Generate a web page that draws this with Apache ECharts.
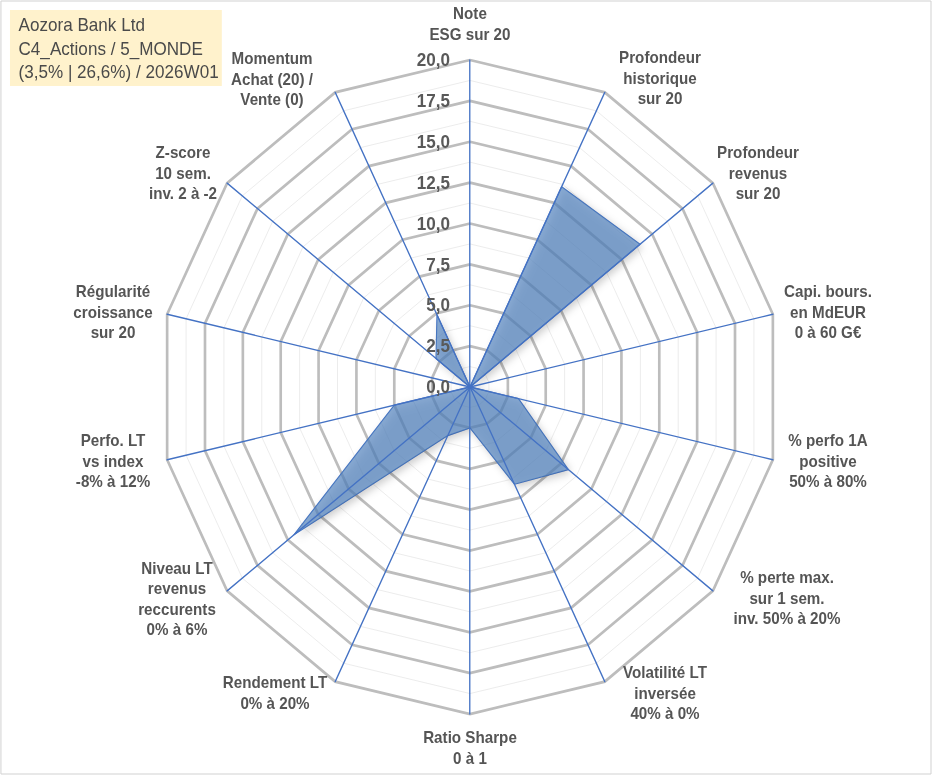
<!DOCTYPE html>
<html><head><meta charset="utf-8">
<script src="https://cdn.jsdelivr.net/npm/echarts@6/dist/echarts.min.js"></script>
<style>
html,body{margin:0;padding:0;background:#fff;overflow:hidden}
#c{width:982px;height:776px;transform:scaleX(0.95);transform-origin:0 0;}
</style></head>
<body><div id="c"></div>
<script>
// ---- data ----
const categories = [
  "Note\nESG sur 20",
  "Profondeur\nhistorique\nsur 20",
  "Profondeur\nrevenus\nsur 20",
  "Capi. bours.\nen MdEUR\n0 à 60 G€",
  "% perfo 1A\npositive\n50% à 80%",
  "% perte max.\nsur 1 sem.\ninv. 50% à 20%",
  "Volatilité LT\ninversée\n40% à 0%",
  "Ratio Sharpe\n0 à 1",
  "Rendement LT\n0% à 20%",
  "Niveau LT\nrevenus\nreccurents\n0% à 6%",
  "Perfo. LT\nvs index\n-8% à 12%",
  "Régularité\ncroissance\nsur 20",
  "Z-score\n10 sem.\ninv. 2 à -2",
  "Momentum\nAchat (20) /\nVente (0)"
];
const scores = [0, 13.6, 14.0, 0, 3.2, 8.1, 6.6, 2.5, 3.3, 14.5, 5.0, 0, 2.8, 4.9];
const ticks = [0, 2.5, 5, 7.5, 10, 12.5, 15, 17.5, 20];
const titleLines = ["Aozora Bank Ltd", "C4_Actions / 5_MONDE", "(3,5% | 26,6%) / 2026W01"];

// ---- layout ----
const S = 0.95;            // horizontal squeeze of the picture
const W = 982;
const CX = 470 / S, CY = 387, R = 327;
// label centres (in displayed pixels)
const labelPos = [[470,24],[660,78],[758,173],[828,312],[828,461],[787,598],[665,693],
                  [470,748],[275,693],[177,599],[113,461],[113,312],[183,173],[272,79]];

const N = categories.length;
const order = [0];
for (let k = N - 1; k >= 1; k--) order.push(k);   // clockwise
const indicator = order.map(i => ({ name: categories[i], min: ticks[0], max: ticks[ticks.length-1] }));

const common = {
  center: [CX, CY], radius: R, startAngle: 90, shape: 'polygon', indicator,
  axisName: { show: false }, splitArea: { show: false }, axisTick: { show: false }, axisLabel: { show: false }
};

const graphics = [
  { type: 'rect', shape: { x: 1, y: 1, width: W - 3, height: 773 }, style: { fill: 'none', stroke: '#D0D0D0', lineWidth: 1 }, z: -10 },
  { type: 'rect', shape: { x: 10.5, y: 10, width: 223, height: 76 }, style: { fill: '#FFF2CC' }, z: 20 },
  { type: 'text', x: 19.5, y: 48.5, z: 21,
    style: { text: titleLines.join('\n'), fill: '#4A4A4A', fontSize: 18, fontFamily: 'Liberation Sans', lineHeight: 23.5,
             align: 'left', verticalAlign: 'middle' } }
];
categories.forEach((name, i) => {
  graphics.push({ type: 'text', x: labelPos[i][0] / S, y: labelPos[i][1], z: 20,
    style: { text: name, fill: '#555555', fontSize: 16, fontWeight: 'bold', fontFamily: 'Liberation Sans',
             lineHeight: 20.5, align: 'center', verticalAlign: 'middle' } });
});

const chart = echarts.init(document.getElementById('c'), null, { renderer: 'svg', width: W, height: 776 });
chart.setOption({
  animation: false,
  backgroundColor: '#fff',
  radar: [
    Object.assign({}, common, { splitNumber: 16, axisLine: { show: false },
      splitLine: { lineStyle: { color: '#EBEBEB', width: 1 } } }),
    Object.assign({}, common, { splitNumber: 8, axisLine: { show: false },
      splitLine: { lineStyle: { color: '#BDBDBD', width: 2.8 } } }),
    Object.assign({}, common, { splitNumber: 8, z: 5,
      axisLine: { lineStyle: { color: '#4472C4', width: 1.4 } }, splitLine: { show: false } })
  ],
  grid: { left: CX, top: CY - R, height: R, width: 10 },
  xAxis: { type: 'value', show: false },
  yAxis: { type: 'value', min: ticks[0], max: ticks[ticks.length-1], interval: ticks[1] - ticks[0], z: 10,
    axisLine: { show: false }, axisTick: { show: false }, splitLine: { show: false },
    axisLabel: { formatter: v => v.toFixed(1).replace('.', ','), fontWeight: 'bold', fontSize: 18,
                 color: '#595959', margin: 21, fontFamily: 'Liberation Sans' } },
  series: [{
    type: 'radar', radarIndex: 0, symbol: 'none', z: 2,
    lineStyle: { color: '#4472C4', width: 1.2 },
    areaStyle: { color: '#4F81BD', opacity: 0.68, shadowBlur: 8, shadowColor: 'rgba(0,0,0,0.3)', shadowOffsetX: 3, shadowOffsetY: 3 },
    data: [{ value: order.map(i => scores[i]) }]
  }],
  graphic: graphics
});
</script></body></html>
